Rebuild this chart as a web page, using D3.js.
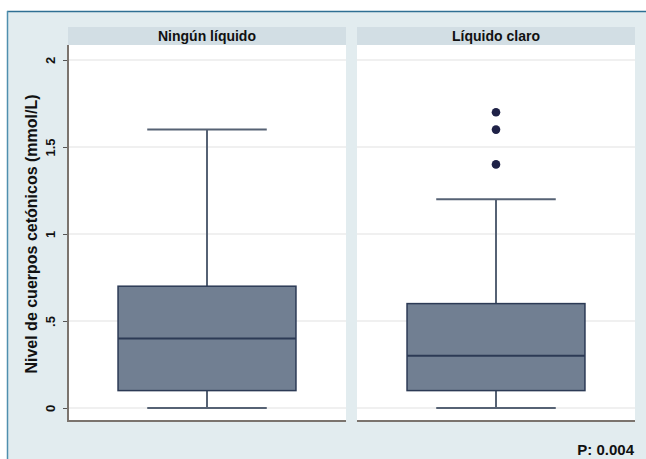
<!DOCTYPE html>
<html>
<head>
<meta charset="utf-8">
<script src="https://cdn.jsdelivr.net/npm/d3@7"></script>
<style>
  html, body { margin: 0; padding: 0; background: #ffffff; }
  svg { display: block; }
  text { font-family: "Liberation Sans", Arial, sans-serif; fill: #111; }
</style>
</head>
<body>
<svg id="chart" width="646" height="459"></svg>
<script>
// Ketone body levels by fluid intake group
const groups = ["Ningún líquido", "Líquido claro"];
const whiskerLow = [0, 0];
const q1 = [0.1, 0.1];
const median = [0.4, 0.3];
const q3 = [0.7, 0.6];
const whiskerHigh = [1.6, 1.2];
const outliers = [[], [1.4, 1.6, 1.7]];
const yTicks = [0, 0.5, 1, 1.5, 2];
const yTickLabels = ["0", ".5", "1", "1.5", "2"];
const yTitle = "Nivel de cuerpos cetónicos (mmol/L)";
const pValueLabel = "P: 0.004";

const svg = d3.select("#chart");
const W = 646, H = 459;

// Outer frame
svg.append("rect").attr("x", 7).attr("y", 11).attr("width", W - 7).attr("height", H - 11)
  .attr("fill", "#e2ecef");
svg.append("line").attr("x1", 7).attr("x2", W).attr("y1", 11.5).attr("y2", 11.5)
  .attr("stroke", "#2f6f93").attr("stroke-width", 1.5);
svg.append("line").attr("x1", 7.5).attr("x2", 7.5).attr("y1", 11).attr("y2", H)
  .attr("stroke", "#4f8fae").attr("stroke-width", 1.5);

const plotTop = 45, plotBottom = 421, stripTop = 27;

const x = d3.scaleBand().domain(groups).range([68, 635]).paddingInner(0.038).paddingOuter(0);
const y = d3.scaleLinear().domain([0, 2]).range([408, 60]);

const boxFrac = 0.64, capFrac = 0.43;

groups.forEach((g, i) => {
  const x0 = x(g), bw = x.bandwidth(), cx = x0 + bw / 2;
  const panel = svg.append("g");

  // strip title
  panel.append("rect").attr("x", x0).attr("y", stripTop).attr("width", bw).attr("height", plotTop - stripTop)
    .attr("fill", "#d2dee4");
  panel.append("text").attr("x", cx).attr("y", stripTop + 14)
    .attr("text-anchor", "middle").attr("font-size", 14).attr("font-weight", "bold")
    .attr("fill", "#151515").text(g);

  // plot area
  panel.append("rect").attr("x", x0).attr("y", plotTop).attr("width", bw).attr("height", plotBottom - plotTop)
    .attr("fill", "#ffffff");

  // gridlines
  panel.selectAll(".grid").data(yTicks).join("line")
    .attr("x1", x0).attr("x2", x0 + bw)
    .attr("y1", d => y(d)).attr("y2", d => y(d))
    .attr("stroke", "#ebebeb").attr("stroke-width", 1.5);

  const boxW = bw * boxFrac, capW = bw * capFrac;
  const wStroke = "#566274";

  // whiskers
  panel.append("line").attr("x1", cx).attr("x2", cx).attr("y1", y(q3[i])).attr("y2", y(whiskerHigh[i]))
    .attr("stroke", wStroke).attr("stroke-width", 2);
  panel.append("line").attr("x1", cx).attr("x2", cx).attr("y1", y(q1[i])).attr("y2", y(whiskerLow[i]))
    .attr("stroke", wStroke).attr("stroke-width", 2);
  panel.append("line").attr("x1", cx - capW / 2).attr("x2", cx + capW / 2)
    .attr("y1", y(whiskerHigh[i])).attr("y2", y(whiskerHigh[i]))
    .attr("stroke", wStroke).attr("stroke-width", 2);
  panel.append("line").attr("x1", cx - capW / 2).attr("x2", cx + capW / 2)
    .attr("y1", y(whiskerLow[i])).attr("y2", y(whiskerLow[i]))
    .attr("stroke", wStroke).attr("stroke-width", 2);

  // box
  panel.append("rect").attr("x", cx - boxW / 2).attr("y", y(q3[i]))
    .attr("width", boxW).attr("height", y(q1[i]) - y(q3[i]))
    .attr("fill", "#717f92").attr("stroke", "#2c3a55").attr("stroke-width", 1.5);
  panel.append("line").attr("x1", cx - boxW / 2).attr("x2", cx + boxW / 2)
    .attr("y1", y(median[i])).attr("y2", y(median[i]))
    .attr("stroke", "#2c3a55").attr("stroke-width", 2);

  // outliers
  panel.selectAll(".out").data(outliers[i]).join("circle")
    .attr("cx", cx).attr("cy", d => y(d)).attr("r", 4.3)
    .attr("fill", "#1f2247");

  // bottom axis line
  panel.append("line").attr("x1", x0).attr("x2", x0 + bw).attr("y1", plotBottom).attr("y2", plotBottom)
    .attr("stroke", "#7b746e").attr("stroke-width", 2);
});

// left axis
const yAxis = d3.axisLeft(y).tickValues(yTicks).tickFormat((d, i) => yTickLabels[i]).tickSize(5).tickPadding(4);
const ag = svg.append("g").attr("transform", "translate(68,0)").call(yAxis);
ag.select(".domain").remove();
ag.append("line").attr("x1", 0).attr("x2", 0).attr("y1", plotTop).attr("y2", plotBottom + 1)
  .attr("stroke", "#7b746e").attr("stroke-width", 2);
ag.selectAll(".tick line").attr("stroke", "#555").attr("stroke-width", 1);
ag.selectAll(".tick text")
  .attr("font-family", "Liberation Sans, Arial, sans-serif")
  .attr("font-size", 13).attr("font-weight", "bold").attr("fill", "#151515")
  .attr("x", null).attr("dy", null)
  .attr("text-anchor", "middle")
  .attr("transform", "translate(-13,0) rotate(-90)")
  .attr("y", 0);

// y title
svg.append("text")
  .attr("transform", `translate(37,${(plotTop + plotBottom) / 2 + 1}) rotate(-90)`)
  .attr("text-anchor", "middle").attr("font-size", 16).attr("font-weight", "bold").attr("fill", "#151515")
  .text(yTitle);

// p-value note
svg.append("text").attr("x", 634).attr("y", 455).attr("text-anchor", "end")
  .attr("font-size", 15).attr("font-weight", "bold").attr("fill", "#151515")
  .text(pValueLabel);
</script>
</body>
</html>
